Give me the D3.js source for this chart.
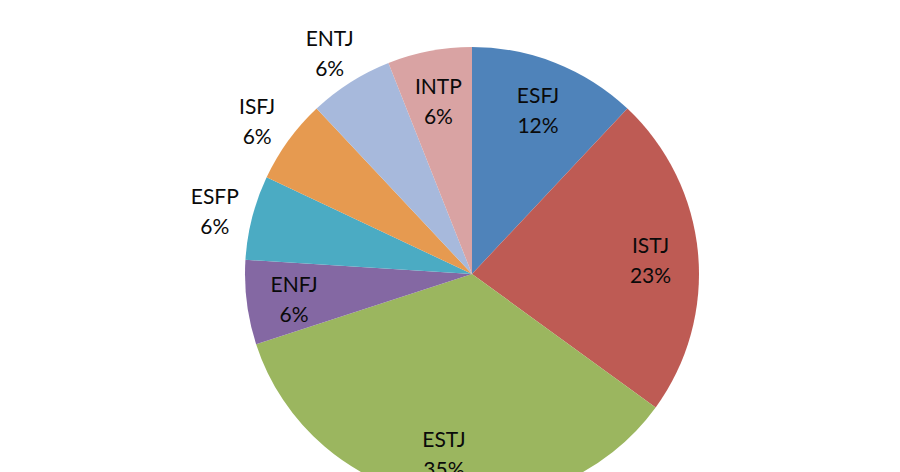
<!DOCTYPE html>
<html>
<head>
<meta charset="utf-8">
<script src="https://cdn.jsdelivr.net/npm/d3@7"></script>
<style>
    body { margin: 0; background: #fff; }
    svg text { font-family: Lato, "Open Sans", sans-serif; fill: #0a0a0a; }
</style>
</head>
<body>
<div id="chart"></div>
<script>
// slices, clockwise from 12 o'clock
const types = ["ESFJ", "ISTJ", "ESTJ", "ENFJ", "ESFP", "ISFJ", "ENTJ", "INTP"];
const percents = [12, 23, 35, 6, 6, 6, 6, 6];
const colors = ["#4f83ba", "#be5b54", "#9bb65f", "#8468a3", "#4babc3", "#e69a50", "#a7b9dc", "#d9a3a3"];
// labels that sit outside the pie
const outsideLabels = ["ESFP", "ISFJ", "ENTJ"];

const width = 900;
const height = 472;
const cx = 472;
const cy = 274;
const radius = 227;

const svg = d3.select("#chart")
    .append("svg")
    .attr("width", width)
    .attr("height", height);

const rows = types.map(function(t, i) {
    return { type: t, value: percents[i], color: colors[i] };
});

const pie = d3.pie()
    .sort(null)
    .value(function(d) { return d.value; });

const arc = d3.arc()
    .innerRadius(0)
    .outerRadius(radius);

const innerLabelArc = d3.arc()
    .innerRadius(radius * 0.79)
    .outerRadius(radius * 0.79);

const outerLabelArc = d3.arc()
    .innerRadius(radius * 1.17)
    .outerRadius(radius * 1.17);

const g = svg.append("g")
    .attr("transform", "translate(" + cx + "," + cy + ")");

const slices = pie(rows);

g.selectAll("path")
    .data(slices)
    .enter()
    .append("path")
    .attr("d", arc)
    .attr("fill", function(d) { return d.data.color; });

const labels = g.selectAll("g.label")
    .data(slices)
    .enter()
    .append("g")
    .attr("class", "label")
    .attr("transform", function(d) {
        const a = outsideLabels.includes(d.data.type) ? outerLabelArc : innerLabelArc;
        return "translate(" + a.centroid(d) + ")";
    });

labels.append("text")
    .attr("text-anchor", "middle")
    .attr("y", -4)
    .style("font-size", "21px")
    .text(function(d) { return d.data.type; });

labels.append("text")
    .attr("text-anchor", "middle")
    .attr("y", 26)
    .style("font-size", "21px")
    .text(function(d) { return d.data.value + "%"; });
</script>
</body>
</html>
